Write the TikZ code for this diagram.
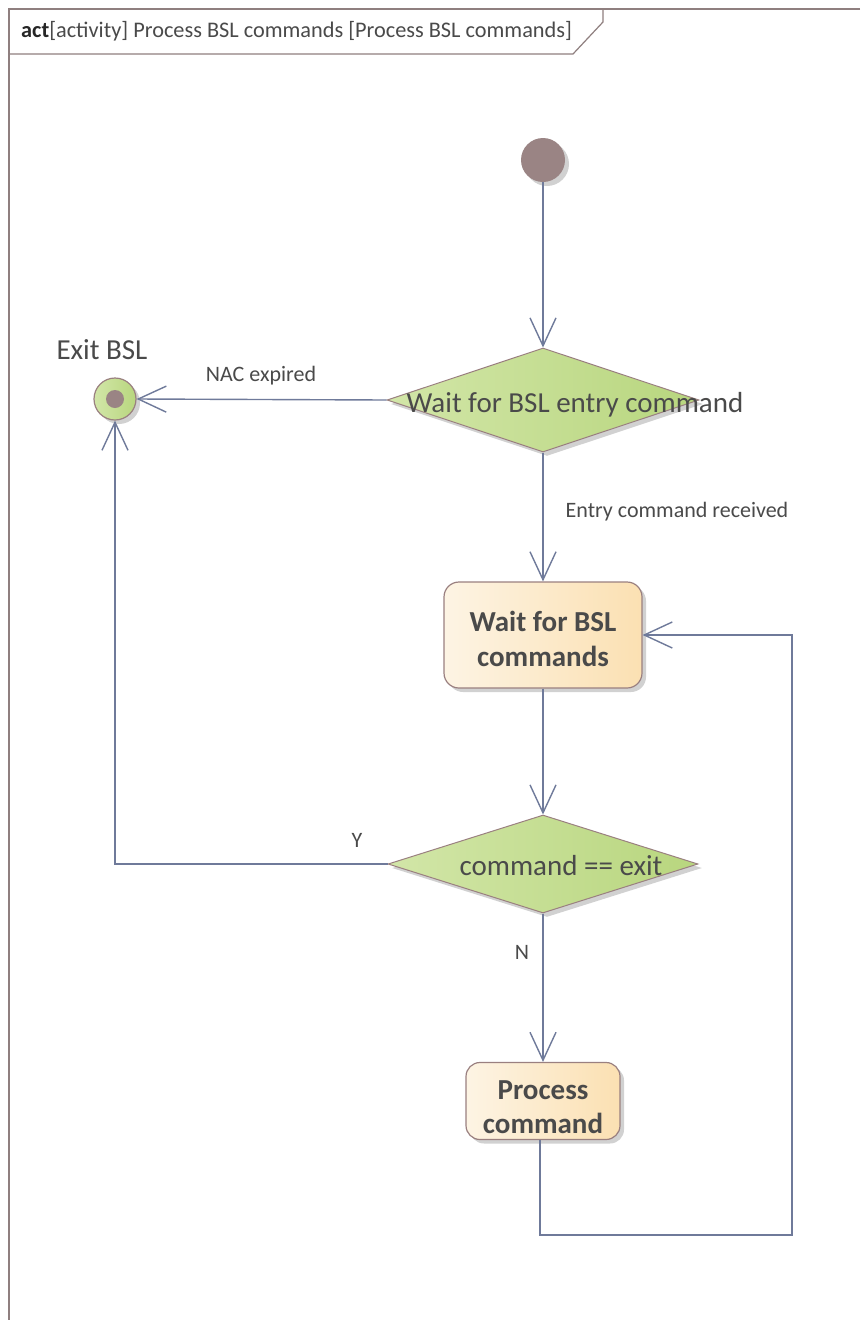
\documentclass[tikz,border=0pt]{standalone}
\usepackage{fontspec}
\setmainfont{Carlito}
\usetikzlibrary{arrows.meta,shapes.geometric,shadows}

\definecolor{edgec}{HTML}{6F7A9A}
\definecolor{framec}{HTML}{8F7F7F}
\definecolor{nodeborder}{HTML}{9A8080}
\definecolor{greenL}{HTML}{D2E6A8}
\definecolor{greenR}{HTML}{B8D67E}
\definecolor{creamL}{HTML}{FDF4E4}
\definecolor{creamR}{HTML}{FBE0B2}
\definecolor{dotc}{HTML}{9A8484}
\definecolor{txt}{HTML}{4A4A4A}

\begin{document}
\begin{tikzpicture}[x=1pt,y=-1pt,
  flow/.style={draw=edgec, line width=1.4pt,
    -{Straight Barb[length=28pt,width=26pt,line width=1.4pt]}},
  softshadow/.style={drop shadow={shadow xshift=4pt, shadow yshift=-4pt,
    fill=black, opacity=0.18}},
  decision/.style={diamond, draw=nodeborder, line width=1pt,
    left color=greenL, right color=greenR, inner sep=0pt, softshadow},
  decisiontext/.style={text=txt, font=\fontsize{29}{34}\selectfont},
  action/.style={rectangle, rounded corners=15pt, draw=nodeborder, line width=1.2pt,
    left color=creamL, right color=creamR, inner sep=0pt, softshadow},
  actiontext/.style={align=center, text=txt, inner sep=0pt,
    font=\bfseries\fontsize{29}{34.5}\selectfont},
  lbl/.style={text=txt, font=\fontsize{22}{26}\selectfont, inner sep=0pt},
  startnode/.style={circle, fill=dotc, minimum size=44pt, inner sep=0pt, softshadow},
  endouter/.style={circle, draw=nodeborder, line width=1.2pt,
    left color=greenL, right color=greenR, minimum size=42pt, inner sep=0pt, softshadow},
  enddot/.style={circle, fill=dotc, minimum size=18pt, inner sep=0pt}
]
\useasboundingbox (0,0) rectangle (860,1320);
\fill[white] (0,0) rectangle (860,1320);

% diagram frame and its name tab
\draw[framec, line width=1.6pt] (860,9) -- (9,9) -- (9,1320);
\draw[framec, line width=1.2pt] (603,9) -- (603,22) -- (573,54) -- (9,54);
\node[anchor=west, inner sep=0pt, text=txt, font=\fontsize{22.3}{26}\selectfont] (title) at (21,31)
  {\textbf{\color{black!85}act}[activity] Process BSL commands [Process BSL commands]};

% nodes
\node[startnode] (init) at (543,160) {};
\node[decision, minimum width=312pt, minimum height=104pt,
  label={[decisiontext, xshift=32pt, yshift=-5pt]center:Wait for BSL entry command}] (entry) at (543,400) {};
\node[endouter] (exit) at (115,399) {};
\node[enddot] (exitdot) at (exit.center) {};
\node[lbl, font=\fontsize{29}{34}\selectfont] (exitlbl) at (102,350) {Exit BSL};

\node[action, minimum width=198pt, minimum height=106pt,
  label={[actiontext, yshift=-4pt]center:{Wait for BSL\\commands}}] (waitcmd) at (543,635) {};
\node[decision, minimum width=310pt, minimum height=98pt,
  label={[decisiontext, xshift=18pt, yshift=-2pt]center:command == exit}] (isexit) at (543,864) {};
\node[action, minimum width=154pt, minimum height=77pt, rounded corners=14pt,
  label={[actiontext, yshift=-6pt]center:{Process\\command}}] (proc) at (543,1101) {};

\coordinate (loopbr) at (792,1235);

% connectors
\draw[flow] (init) -- (entry.north);
\draw[flow] (entry.west) -- (exit.east);
\draw[flow] (entry.south) -- (waitcmd.north);
\draw[flow] (waitcmd.south) -- (isexit.north);
\draw[flow] (isexit.west) -| (exit.south);
\draw[flow] (isexit.south) -- (proc.north);
\draw[flow] ([xshift=-3pt]proc.south) |- (loopbr) |- (waitcmd.east);

% connector labels
\node[lbl] (nac) at (261,376) {NAC expired};
\node[lbl] (recv) at (677,512) {Entry command received};
\node[lbl] (yes) at (357,840) {Y};
\node[lbl] (no) at (522,952) {N};
\end{tikzpicture}
\end{document}
